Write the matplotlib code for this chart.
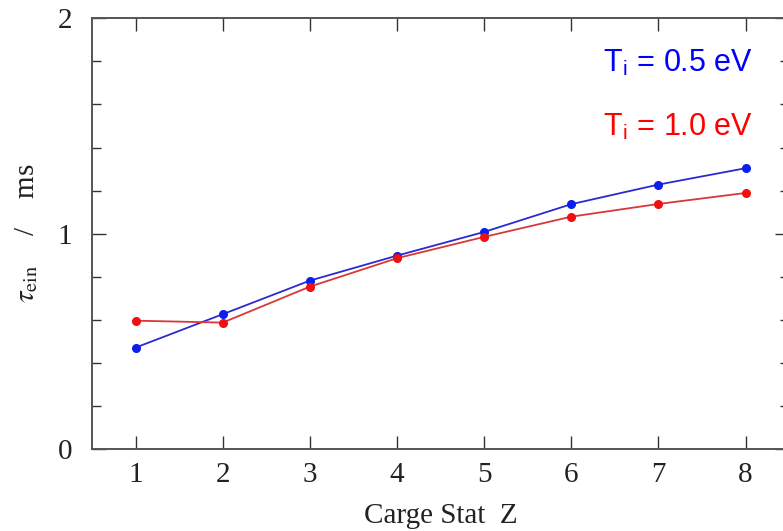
import numpy as np
import matplotlib.pyplot as plt
from matplotlib.ticker import MultipleLocator

# charge states and confinement times (ms)
z = [1, 2, 3, 4, 5, 6, 7, 8]
tau_05 = [0.471, 0.626, 0.782, 0.898, 1.008, 1.137, 1.228, 1.304]
tau_10 = [0.596, 0.587, 0.754, 0.886, 0.985, 1.079, 1.138, 1.189]

plt.rcParams['font.family'] = 'Liberation Serif'
plt.rcParams['mathtext.fontset'] = 'stix'

fig = plt.figure(figsize=(7.83, 5.31), dpi=100)
# right edge of the frame runs just past the figure border
ax = fig.add_axes([0.1175, 0.1544, 0.8904, 0.8111])

ax.plot(z, tau_05, color='#2a2ad0', lw=1.3, marker='o', ms=5.5,
        mfc='#0a1ef0', mec='#0a1ef0')
ax.plot(z, tau_10, color='#d83838', lw=1.3, marker='o', ms=5.5,
        mfc='#f01010', mec='#f01010')

ax.set_xlim(0.5, 8.5)
ax.set_ylim(0, 2)
ax.set_xticks(z)
ax.yaxis.set_major_locator(MultipleLocator(1))
ax.yaxis.set_minor_locator(MultipleLocator(0.2))

for s in ax.spines.values():
    s.set_color('#555555')
    s.set_linewidth(1.4)

ax.tick_params(axis='both', which='both', direction='in', top=True, right=True,
               color='#333333', width=1.0, labelsize=21, labelcolor='#222222')
ax.tick_params(axis='x', which='major', length=9.5, pad=9)
ax.tick_params(axis='y', which='major', length=10, pad=14)
ax.tick_params(axis='y', which='minor', length=6.5)

ax.set_xlabel('Carge Stat  Z', fontsize=21, color='#222222')
ax.xaxis.set_label_coords(0.5, -0.125)
ax.set_ylabel(r'$\tau_{\rm ein}$    /    ms', fontsize=21, color='#222222')
ax.yaxis.set_label_coords(-0.075, 0.5)

ax.text(8.08, 1.751, r'T$_\mathregular{i}$ = 0.5 eV', color='#0000ff',
        fontsize=22, family='Liberation Sans', ha='right', va='baseline')
ax.text(8.08, 1.454, r'T$_\mathregular{i}$ = 1.0 eV', color='#ff0000',
        fontsize=22, family='Liberation Sans', ha='right', va='baseline')

fig.savefig('out.png', dpi=100)
